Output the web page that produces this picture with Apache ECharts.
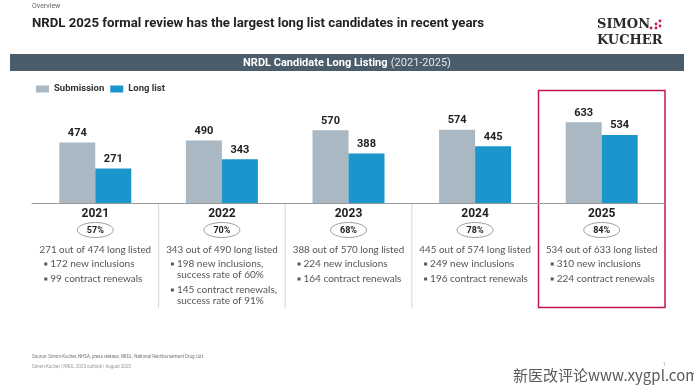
<!DOCTYPE html>
<html><head><meta charset="utf-8">
<script src="https://cdn.jsdelivr.net/npm/echarts@6/dist/echarts.min.js"></script>
<style>html,body{margin:0;padding:0;background:#fff}#c{width:694px;height:385px}</style>
</head><body><div id="c"></div>
<script>
const years = ['2021','2022','2023','2024','2025'];
const submission = [474, 490, 570, 574, 633];
const longList = [271, 343, 388, 445, 534];
const rates = ['57%','70%','68%','78%','84%'];
const summaries = ['271 out of 474 long listed','343 out of 490 long listed','388 out of 570 long listed','445 out of 574 long listed','534 out of 633 long listed'];
const bullets = [
  [['172 new inclusions'],['99 contract renewals']],
  [['198 new inclusions,','success rate of 60%'],['145 contract renewals,','success rate of 91%']],
  [['224 new inclusions'],['164 contract renewals']],
  [['249 new inclusions'],['196 contract renewals']],
  [['310 new inclusions'],['224 contract renewals']]
];

const chart = echarts.init(document.getElementById('c'), null, {renderer:'canvas'});
const gLeft = 32, gRight = 29, W = 694;
const colW = (W - gLeft - gRight) / years.length;
const SANS = 'Roboto, "Open Sans", sans-serif';
const BODY = 'Lato, "Open Sans", sans-serif';

const graphics = [];
// header
graphics.push({type:'text', left:32, top:3, style:{text:'Overview', fill:'#666', font:'7px '+SANS}});
graphics.push({type:'text', left:32, top:17, style:{text:'NRDL 2025 formal review has the largest long list candidates in recent years', fill:'#222', font:'bold 13.2px '+SANS}});
graphics.push({type:'text', left:597, top:18, style:{text:'SIMON', fill:'#2a2a2a', font:'bold 13px "DejaVu Serif", serif'}});
graphics.push({type:'text', left:597, top:34, style:{text:'KUCHER', fill:'#2a2a2a', font:'bold 13px "DejaVu Serif", serif'}});
[[651,28],[656,24],[660,21],[656,28],[660,26]].forEach(p=>graphics.push({type:'circle', shape:{cx:p[0], cy:p[1], r:1.4}, style:{fill:'#c8174b'}}));
// banner
graphics.push({type:'rect', shape:{x:10, y:54, width:674, height:17}, style:{fill:'#4b5d6a'}});
graphics.push({type:'text', x:347, y:63, style:{rich:{a:{fill:'#fff', font:'bold 11px '+SANS}, b:{fill:'#e2e6e9', font:'11px '+SANS}}, text:'{a|NRDL Candidate Long Listing} {b|(2021-2025)}', align:'center', verticalAlign:'middle'}});

// columns
for (let i=0;i<years.length;i++){
  const cx = gLeft + colW*(i+0.5);
  if (i>0 && i<4) graphics.push({type:'line', shape:{x1:gLeft+colW*i, y1:203, x2:gLeft+colW*i, y2:308}, style:{stroke:'#d6d6d6', lineWidth:1}});
  graphics.push({type:'ellipse', shape:{cx:cx, cy:230, rx:18, ry:7.5}, style:{fill:'none', stroke:'#888', lineWidth:0.8}});
  graphics.push({type:'text', x:cx, y:230.5, style:{text:rates[i], fill:'#222', font:'bold 9px '+SANS, align:'center', verticalAlign:'middle'}});
  graphics.push({type:'text', x:cx, y:250, style:{text:summaries[i], fill:'#555', font:'9.8px '+BODY, align:'center', verticalAlign:'middle'}});
  let y = 264;
  bullets[i].forEach(b=>{
    graphics.push({type:'rect', shape:{x:cx-51, y:y-1.5, width:3, height:3}, style:{fill:'#555'}});
    b.forEach(line=>{
      graphics.push({type:'text', x:cx-45, y:y, style:{text:line, fill:'#555', font:'10px '+BODY, verticalAlign:'middle'}});
      y += 11;
    });
    y += 4;
  });
}
// highlight box
graphics.push({type:'rect', shape:{x:538.5, y:90.5, width:126.5, height:217}, style:{fill:'none', stroke:'#c8174b', lineWidth:1.5}});
// footer
graphics.push({type:'text', left:32, top:354, style:{text:'Source: Simon-Kucher, NHSA, press release; NRDL: National Reimbursement Drug List.', fill:'#777', font:'4.5px '+SANS}});
graphics.push({type:'text', left:32, top:364, style:{text:'Simon-Kucher | NRDL 2025 outlook | August 2025', fill:'#999', font:'4.5px '+SANS}});
graphics.push({type:'text', left:663, top:362, style:{text:'1', fill:'#999', font:'4.5px '+SANS}});
graphics.push({type:'text', left:513, top:368, style:{text:'新医改评论www.xygpl.com', fill:'#5a5a5a', font:'15px "Noto Sans CJK SC", sans-serif'}});

chart.setOption({
  animation:false,
  backgroundColor:'#fff',
  legend:{left:31, top:79, itemWidth:13, itemHeight:7, itemGap:6, icon:'rect',
    textStyle:{fontFamily:SANS, fontWeight:'bold', fontSize:9.5, color:'#333'},
    data:['Submission','Long list']},
  grid:{left:gLeft, right:gRight, top:101, bottom:182},
  xAxis:{type:'category', data:years,
    axisLine:{lineStyle:{color:'#999', width:1}}, axisTick:{show:false},
    axisLabel:{fontFamily:SANS, fontWeight:'bold', fontSize:12, color:'#222', margin:5}},
  yAxis:{type:'value', min:0, max:800, show:false, splitLine:{show:false}},
  series:[
    {name:'Submission', type:'bar', data:submission, barWidth:36, barGap:'0%', itemStyle:{color:'#a9b8c2'},
     label:{show:true, position:'top', distance:4, fontFamily:SANS, fontWeight:'bold', fontSize:11, color:'#222'}},
    {name:'Long list', type:'bar', data:longList, barWidth:36, itemStyle:{color:'#1b96cd'},
     label:{show:true, position:'top', distance:4, fontFamily:SANS, fontWeight:'bold', fontSize:11, color:'#222'}}
  ],
  graphic:graphics
});
</script></body></html>
